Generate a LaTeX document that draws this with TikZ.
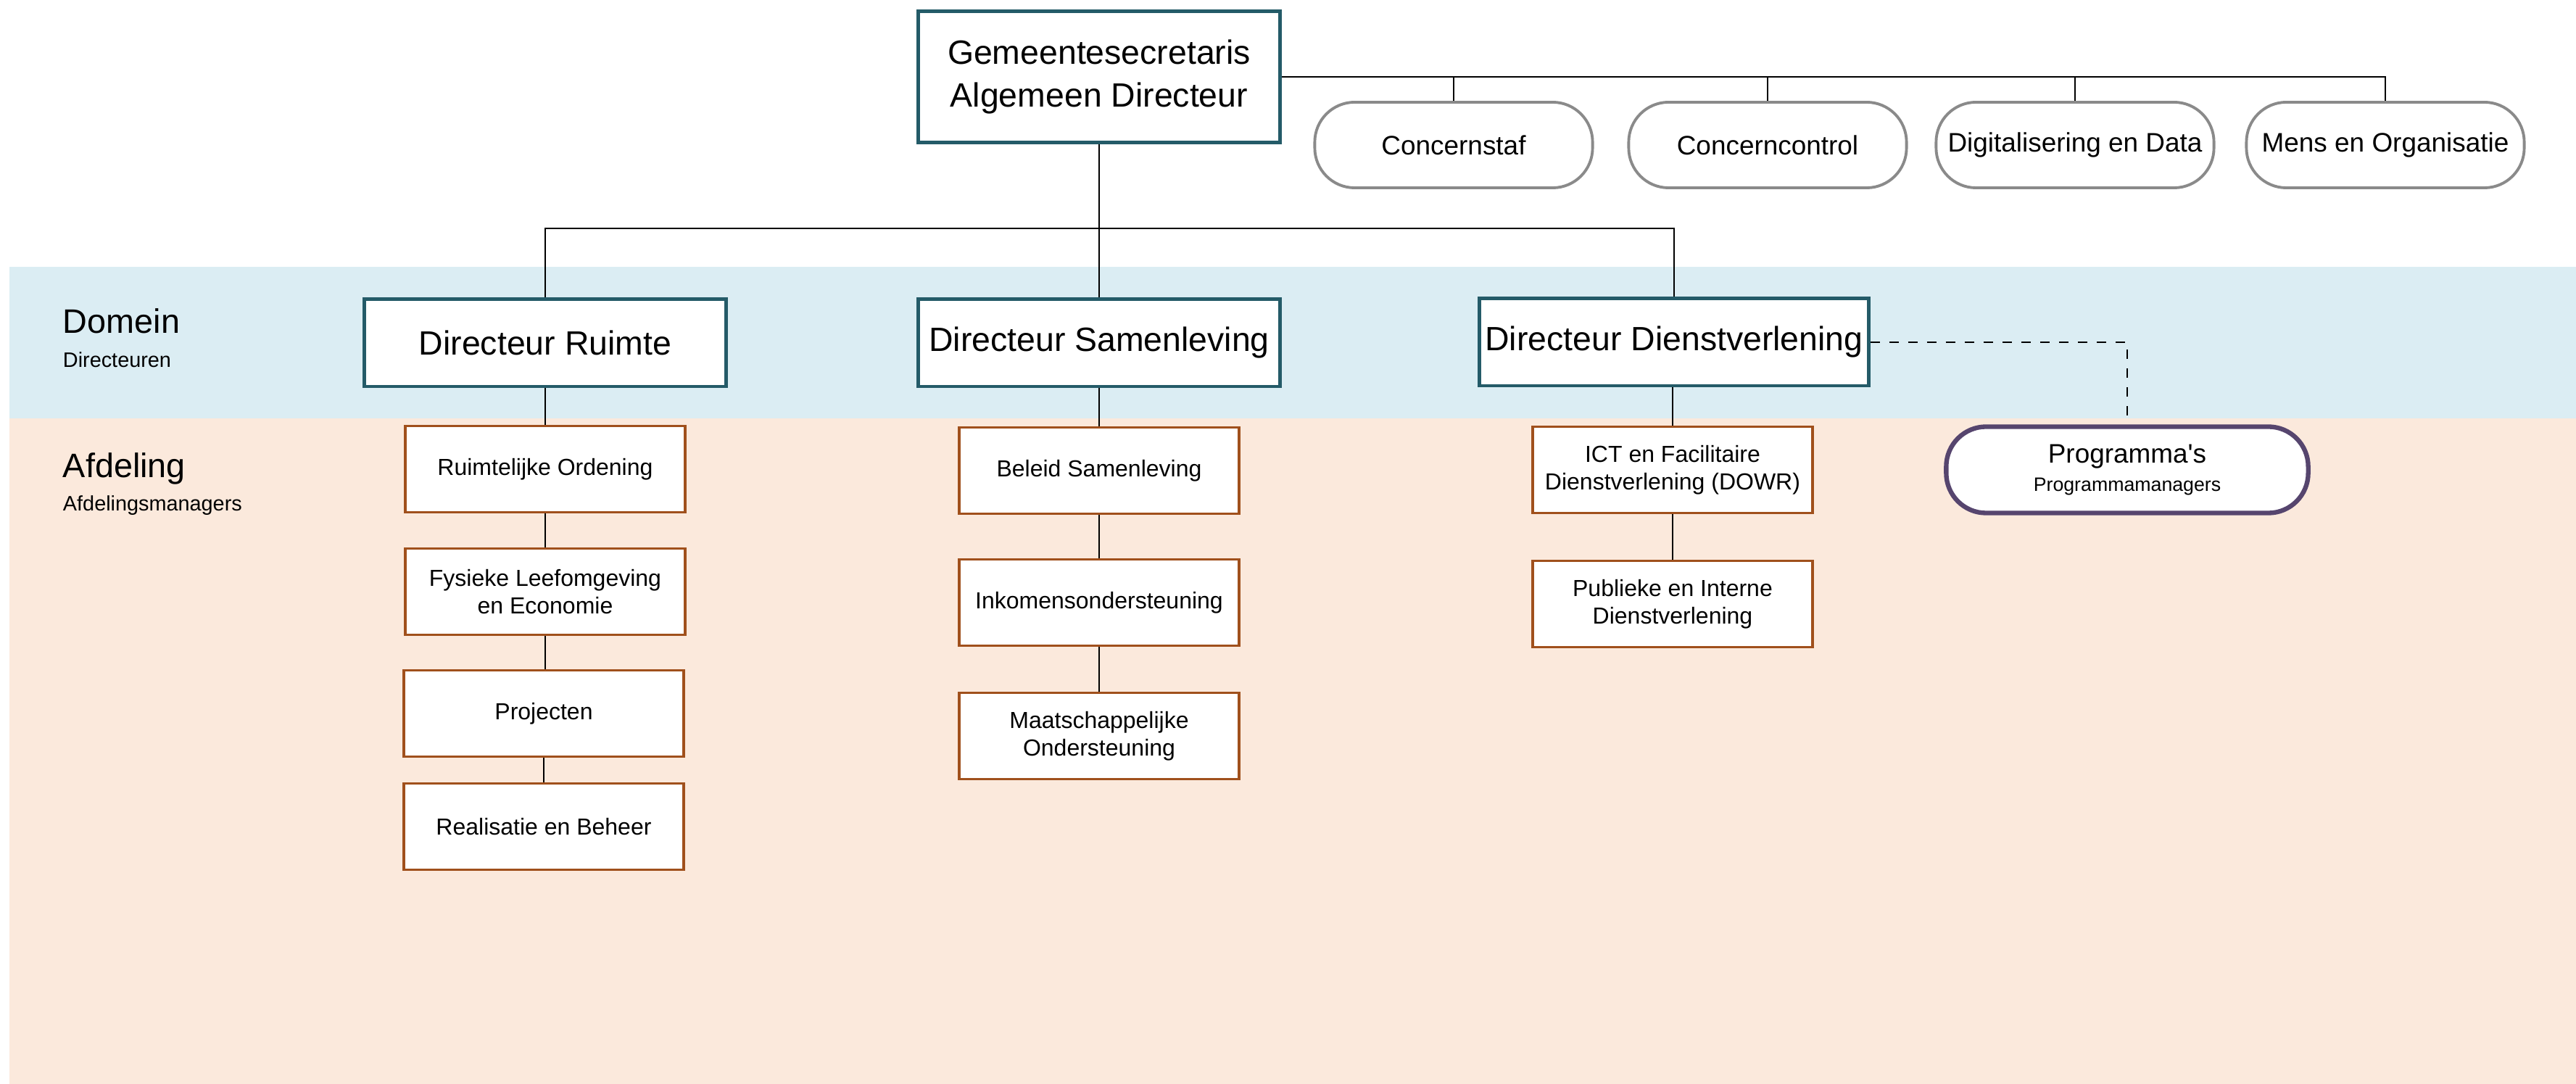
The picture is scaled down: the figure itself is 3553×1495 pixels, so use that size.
\documentclass[tikz,border=0pt]{standalone}
\usepackage{fontspec}
\setmainfont{Liberation Sans}
\newfontfamily\plainfont{Liberation Sans}
\definecolor{dirteal}{HTML}{245B68}
\definecolor{afdbrown}{HTML}{A0501C}
\definecolor{stafgrey}{HTML}{8A8A8A}
\definecolor{progpurple}{HTML}{56456E}
\definecolor{bandblue}{HTML}{DBEDF3}
\definecolor{bandpeach}{HTML}{FBE9DC}

\begin{document}
\begin{tikzpicture}[x=.01cm,y=-.01cm,line width=.55pt,
  dir/.style={draw=dirteal,line width=1.4pt,fill=white,minimum width=4.99cm,minimum height=1.2cm,inner xsep=2pt,align=center,font=\fontsize{13.2}{16.5}\selectfont},
  afd/.style={draw=afdbrown,line width=1.1pt,fill=white,minimum width=3.85cm,minimum height=1.19cm,align=center,font=\fontsize{9.1}{10.8}\selectfont},
  staf/.style={draw=stafgrey,line width=1.1pt,fill=white,rounded corners=.55cm,minimum width=3.83cm,minimum height=1.18cm,inner xsep=2pt,font=\fontsize{10.5}{12.5}\selectfont},
  prog/.style={draw=progpurple,line width=1.8pt,fill=white,rounded corners=.55cm,minimum width=4.99cm,minimum height=1.19cm,align=center},
  lane/.style={anchor=base west,inner sep=0pt,font=\fontsize{13.3}{16}\selectfont},
  sublane/.style={anchor=base west,inner sep=0pt,font=\fontsize{8.2}{10}\selectfont}]
\useasboundingbox (0,0) rectangle (3553,1495);
\fill[bandblue] (13,368) rectangle (3553,577);
\fill[bandpeach] (13,577) rectangle (3553,1495);
\node[lane] at (86,460) {Domein};\node[sublane] at (86,507) {Directeuren};
\node[lane] at (86,659) {Afdeling};\node[sublane] at (86,705) {Afdelingsmanagers};

\node[dir,minimum height=1.81cm] (gs) at (1516,106) {Gemeentesecretaris\\Algemeen Directeur};
\node[staf] (cs) at (2005,200) {Concernstaf};
\node[staf] (cc) at (2438,200) {Concerncontrol};
\node[staf] (dg) at (2862,200) {Digitalisering en Data};
\node[staf] (mo) at (3290,200) {Mens en Organisatie};
\draw (gs.east) -| (mo.north);
\draw (cs.north) -- (cs.north|-gs.east);\draw (cc.north) -- (cc.north|-gs.east);\draw (dg.north) -- (dg.north|-gs.east);

\node[dir] (dr) at (752,473) {Directeur Ruimte};
\node[dir] (ds) at (1516,473) {Directeur Samenleving};
\node[dir,minimum width=5.36cm] (dd) at (2309,472) {Directeur Dienstverlening};
\coordinate (bus) at (1516,315);
\draw (gs.south) -- (ds.north);
\draw (dr.north) |- (bus) -| (dd.north);

\node[afd] (ro) at (752,647) {Ruimtelijke Ordening};
\node[afd] (fl) at (752,816) {Fysieke Leefomgeving\\en Economie};
\node[afd] (pj) at (750,984) {Projecten};
\node[afd] (rb) at (750,1140) {Realisatie en Beheer};
\draw (dr.south) -- (ro.north);\draw (ro.south) -- (fl.north);\draw (fl.south) -- (fl.south|-pj.north);\draw (pj.south) -- (rb.north);

\node[afd] (bs) at (1516,649) {Beleid Samenleving};
\node[afd] (ik) at (1516,831) {Inkomensondersteuning};
\node[afd] (mt) at (1516,1015) {Maatschappelijke\\Ondersteuning};
\draw (ds.south) -- (bs.north);\draw (bs.south) -- (ik.north);\draw (ik.south) -- (mt.north);

\node[afd] (ict) at (2307,648) {ICT en Facilitaire\\Dienstverlening (DOWR)};
\node[afd] (pid) at (2307,833) {Publieke en Interne\\Dienstverlening};
\draw (ict.north|-dd.south) -- (ict.north);\draw (ict.south) -- (pid.north);

\node[prog] (pr) at (2934,648) {{\fontsize{10.5}{12}\selectfont Programma{\plainfont'}s}\\[-1pt]{\fontsize{7.6}{9}\selectfont Programmamanagers}};
\draw[dash pattern=on 3.7pt off 3.7pt] (dd.east) -| (pr.north);
\end{tikzpicture}
\end{document}
